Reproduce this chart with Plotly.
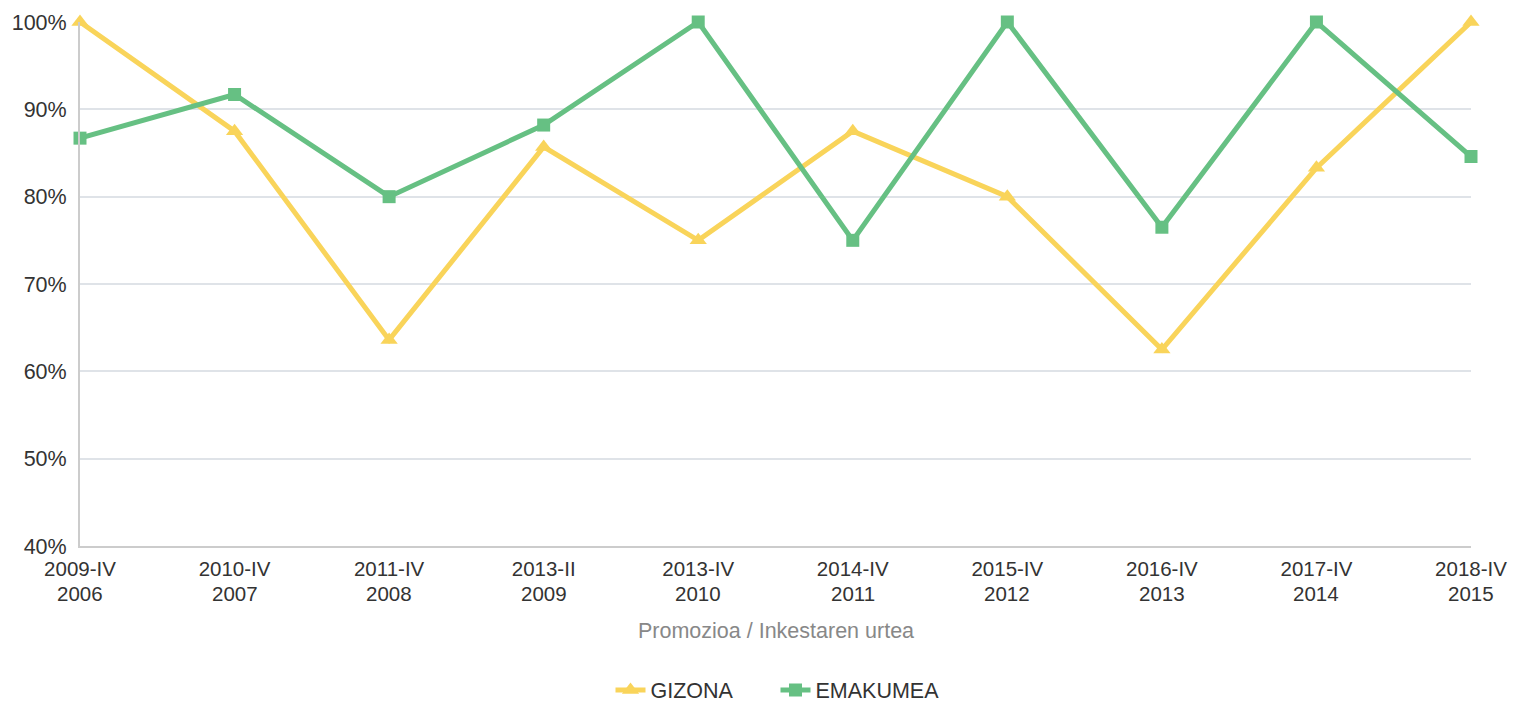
import plotly.graph_objects as go

promozioa = ["2009-IV", "2010-IV", "2011-IV", "2013-II", "2013-IV",
             "2014-IV", "2015-IV", "2016-IV", "2017-IV", "2018-IV"]
inkesta_urtea = ["2006", "2007", "2008", "2009", "2010",
                 "2011", "2012", "2013", "2014", "2015"]
gizona = [100.0, 87.5, 63.6, 85.7, 75.0, 87.5, 80.0, 62.5, 83.3, 100.0]
emakumea = [86.7, 91.7, 80.0, 88.2, 100.0, 75.0, 100.0, 76.5, 100.0, 84.6]
y_ticks = [40, 50, 60, 70, 80, 90, 100]

x_pos = list(range(len(promozioa)))
FONT = "Liberation Sans, Arial, sans-serif"
FS = 21.5
FSX = 20.5

fig = go.Figure()
fig.add_trace(go.Scatter(
    x=x_pos, y=gizona, name="GIZONA", mode="lines+markers",
    line=dict(color="#F9D45A", width=5),
    marker=dict(symbol="triangle-up", size=15, color="#F9D45A"),
    cliponaxis=False,
))
fig.add_trace(go.Scatter(
    x=x_pos, y=emakumea, name="EMAKUMEA", mode="lines+markers",
    line=dict(color="#66C083", width=5),
    marker=dict(symbol="square", size=13, color="#66C083"),
    cliponaxis=False,
))

annotations = [dict(
    text=yr, x=xp, y=0, xref="x", yref="y domain", yshift=-47,
    showarrow=False, xanchor="center", yanchor="middle",
    font=dict(family=FONT, size=FSX, color="#333333"),
) for xp, yr in zip(x_pos, inkesta_urtea)]

annotations.append(dict(
    text="Promozioa / Inkestaren urtea", xref="paper", yref="paper",
    x=0.5, y=0, yshift=-85, xanchor="center", yanchor="middle", showarrow=False,
    font=dict(family=FONT, size=FS, color="#888888"),
))

fig.update_layout(
    width=1513, height=711,
    margin=dict(l=80, r=42, t=22, b=165, autoexpand=False),
    paper_bgcolor="white", plot_bgcolor="white",
    font=dict(family=FONT, size=FS, color="#333333"),
    showlegend=True,
    legend=dict(orientation="h", x=0.5, xanchor="center", y=-0.275, yanchor="middle",
                font=dict(family=FONT, size=FS, color="#333333"),
                entrywidth=120, itemwidth=30),
    xaxis=dict(
        tickmode="array", tickvals=x_pos, ticktext=promozioa,
        range=[0, len(promozioa) - 1], automargin=False,
        showgrid=False, showline=True, linecolor="#cccccc", linewidth=2,
        ticks="", ticklabelstandoff=3,
        tickfont=dict(family=FONT, size=FSX, color="#333333"),
        zeroline=False,
    ),
    yaxis=dict(
        range=[40, 100], tickmode="array", tickvals=y_ticks,
        ticktext=[f"{v}%" for v in y_ticks], automargin=False,
        showgrid=True, gridcolor="#dfe3e8", gridwidth=2,
        showline=True, linecolor="#cccccc", linewidth=2,
        ticks="", ticklabelstandoff=7,
        tickfont=dict(family=FONT, size=FS, color="#333333"),
        zeroline=False,
    ),
    annotations=annotations,
)

fig.write_html(
    "out.html",
    config={"displayModeBar": False},
    post_script="document.body.style.margin='0';document.body.style.overflow='hidden';",
)
